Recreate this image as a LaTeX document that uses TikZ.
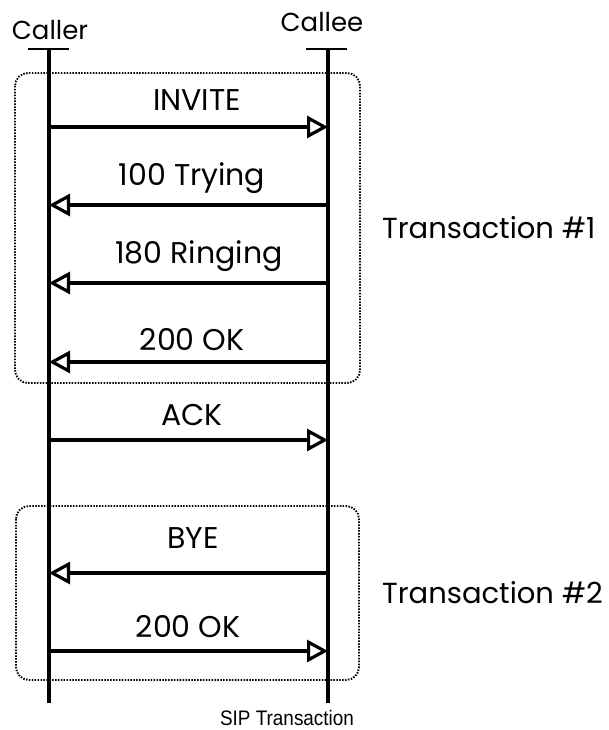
\documentclass[tikz,border=0pt]{standalone}
\usepackage{fontspec}
\setmainfont{Poppins}
\newfontfamily\capfont{Liberation Sans}
\usetikzlibrary{arrows.meta}
\begin{document}
\begin{tikzpicture}[x=1pt,y=-1pt,
  lifeline/.style={line width=3.5pt},
  headbar/.style={line width=2.6pt},
  msg/.style={line width=3.3pt,-{Triangle[open,length=21pt,width=22pt,line width=3.2pt]}},
  msgtext/.style={font=\fontsize{30}{34}\selectfont,inner sep=0pt},
  partytext/.style={font=\fontsize{26}{30}\selectfont,inner sep=0pt},
  trtext/.style={font=\fontsize{29}{34}\selectfont,inner sep=0pt,anchor=west},
  trbox/.style={line width=1.9pt,dash pattern=on 1.5pt off 1.4pt,rounded corners=13pt},
  captext/.style={font=\capfont\fontsize{21}{25}\selectfont,inner sep=0pt,xscale=0.9,anchor=base}]
\useasboundingbox (0,0) rectangle (608,730);

% parties and lifelines
\node[partytext] (caller) at (50,30) {Caller};
\node[partytext] (callee) at (322,22) {Callee};
\coordinate (atop) at (49,49);
\coordinate (abot) at (49,703);
\coordinate (btop) at (328,49);
\coordinate (bbot) at (328,703);
\draw[lifeline] (atop) -- (abot);
\draw[lifeline] (btop) -- (bbot);
\draw[headbar] ([xshift=-21pt]atop) -- ([xshift=20pt]atop);
\draw[headbar] ([xshift=-22pt]btop) -- ([xshift=19pt]btop);

% transaction boxes
\draw[trbox] (15,73) rectangle (360,383);
\draw[trbox] (16,506) rectangle (359,680);
\node[trtext] (tr1) at (382,228) {Transaction \#1};
\node[trtext] (tr2) at (382,593) {Transaction \#2};

% message end points
\foreach \n/\y in {1/127,2/205,3/283,4/362,5/440,6/573,7/651}{
  \coordinate (a\n) at (49,\y);
  \coordinate (b\n) at (328,\y);
}

% messages
\draw[msg] (a1) -- (b1);
\node[msgtext] (m1) at (197,100) {INVITE};
\draw[msg] (b2) -- (a2);
\node[msgtext] (m2) at (192,178) {100 Trying};
\draw[msg] (b3) -- (a3);
\node[msgtext] (m3) at (199,256) {180 Ringing};
\draw[msg] (b4) -- (a4);
\node[msgtext] (m4) at (192,340) {200 OK};
\draw[msg] (a5) -- (b5);
\node[msgtext] (m5) at (192,415) {ACK};
\draw[msg] (b6) -- (a6);
\node[msgtext] (m6) at (193,538) {BYE};
\draw[msg] (a7) -- (b7);
\node[msgtext] (m7) at (188,627) {200 OK};

% caption
\node[captext] (cap) at (287,725) {SIP Transaction};
\end{tikzpicture}
\end{document}
